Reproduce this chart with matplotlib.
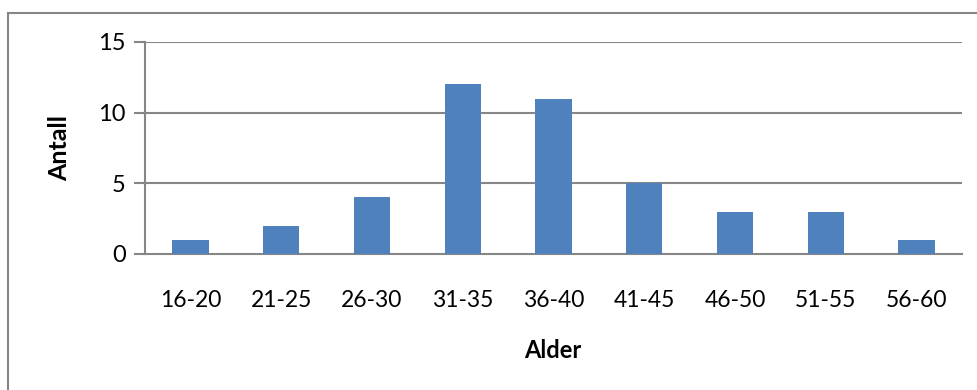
import matplotlib
matplotlib.use("Agg")
import matplotlib.pyplot as plt
from matplotlib.lines import Line2D

categories = ["16-20", "21-25", "26-30", "31-35", "36-40", "41-45", "46-50", "51-55", "56-60"]
counts = [1, 2, 4, 12, 11, 5, 3, 3, 1]
y_ticks = [0, 5, 10, 15]

W, H = 978, 390
fig = plt.figure(figsize=(W / 100, H / 100), dpi=100)
plt.rcParams["font.family"] = ["Lato", "DejaVu Sans"]

grid_color = "#868686"
bar_color = "#4F81BD"

# outer chart frame (top and left edges visible)
fig.add_artist(Line2D([8 / W, 1.0], [1 - 13 / H, 1 - 13 / H], color=grid_color, lw=1.5, transform=fig.transFigure))
fig.add_artist(Line2D([8 / W, 8 / W], [0.0, 1 - 13 / H], color=grid_color, lw=1.5, transform=fig.transFigure))

left, right, top, bottom = 145, 962, 42, 254
ax = fig.add_axes([left / W, 1 - bottom / H, (right - left) / W, (bottom - top) / H])

x = range(len(categories))
ax.bar(x, counts, width=0.4, color=bar_color, zorder=3)
ax.set_xlim(-0.5, len(categories) - 0.5)
ax.set_ylim(0, 15)

ax.set_yticks(y_ticks)
ax.set_yticklabels([str(v) for v in y_ticks], fontsize=17)
ax.set_xticks(list(x))
ax.set_xticklabels(categories, fontsize=16.5)
ax.tick_params(axis="x", length=0, pad=26)
ax.tick_params(axis="y", length=8, width=1.5, color=grid_color, pad=6)

for v in y_ticks[1:]:
    ax.axhline(v, color=grid_color, lw=1.5, zorder=1)

for s in ["top", "right"]:
    ax.spines[s].set_visible(False)
for s in ["left", "bottom"]:
    ax.spines[s].set_color(grid_color)
    ax.spines[s].set_linewidth(1.5)

fig.text(60 / W, 1 - 148 / H, "Antall", rotation=90, fontsize=18, fontweight="bold", ha="center", va="center")
fig.text(553 / W, 1 - 350 / H, "Alder", fontsize=17, fontweight="bold", ha="center", va="center")

fig.savefig("out.png", dpi=100)
